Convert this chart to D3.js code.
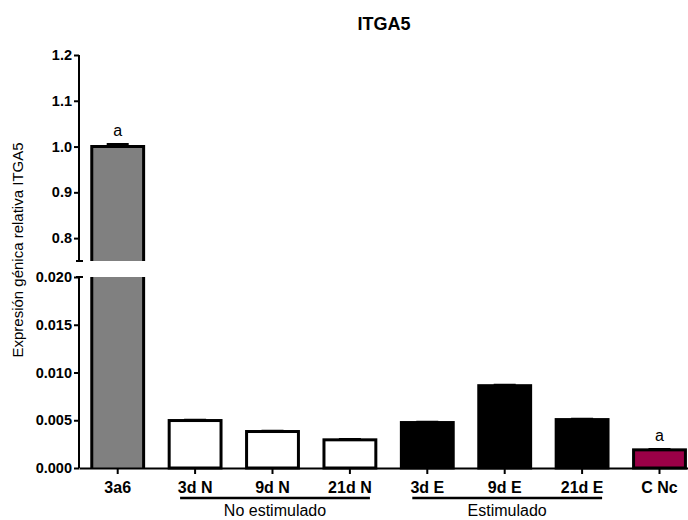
<!DOCTYPE html>
<html>
<head>
<meta charset="utf-8">
<script src="https://cdn.jsdelivr.net/npm/d3@7"></script>
<style>
  body { margin: 0; background: #fff; }
  svg { font-family: "Liberation Sans", Arial, sans-serif; }
</style>
</head>
<body>
<div id="chart"></div>
<script>
// datos
let categories = ["3a6", "3d N", "9d N", "21d N", "3d E", "9d E", "21d E", "C Nc"];
let values = [1.0, 0.00497, 0.00382, 0.00295, 0.00476, 0.00862, 0.00507, 0.0019];
let errors = [0.0045, 0.00004, 0.00004, 0.00003, 0.00003, 0.00004, 0.00003, 0.00004];
let fills = ["#808080", "#ffffff", "#ffffff", "#ffffff", "#000000", "#000000", "#000000", "#9b0047"];
let sigLabels = ["a", "", "", "", "", "", "", "a"];
let topTicks = [0.8, 0.9, 1.0, 1.1, 1.2];
let bottomTicks = [0, 0.005, 0.010, 0.015, 0.020];
let groups = [
  {name: "No estimulado", from: "3d N", to: "21d N"},
  {name: "Estimulado", from: "3d E", to: "21d E"}
];

let width = 688;
let height = 520;
let axisX = 79;

let svg = d3.select("#chart")
  .append("svg")
  .attr("width", width)
  .attr("height", height);

// escalas
let xScale = d3.scaleBand()
  .domain(categories)
  .range([axisX, axisX + 77.4 * categories.length])
  .paddingInner(0.33)
  .paddingOuter(0.165);

let yTop = d3.scaleLinear().domain([0.75, 1.2]).range([261, 55]);
let yBot = d3.scaleLinear().domain([0, 0.02]).range([468, 277]);

// titulo
svg.append("text")
  .attr("x", 384)
  .attr("y", 30)
  .attr("text-anchor", "middle")
  .attr("font-size", "18px")
  .attr("font-weight", "bold")
  .text("ITGA5");

// etiqueta eje y
svg.append("text")
  .attr("transform", "translate(23,250) rotate(-90)")
  .attr("text-anchor", "middle")
  .attr("font-size", "15px")
  .text("Expresión génica relativa ITGA5");

// barras
let bars = svg.append("g");
categories.forEach(function(c, i) {
  let x0 = xScale(c);
  let w = xScale.bandwidth();
  let v = values[i];
  if (v > 0.02) {
    // barra partida
    bars.append("rect")
      .attr("x", x0).attr("y", yBot(0.02))
      .attr("width", w).attr("height", yBot(0) - yBot(0.02))
      .attr("fill", fills[i]);
    bars.append("path")
      .attr("d", "M" + x0 + "," + yBot(0) + "V" + yBot(0.02) + "M" + (x0 + w) + "," + yBot(0.02) + "V" + yBot(0))
      .attr("stroke", "#000").attr("stroke-width", 3).attr("fill", "none");
    bars.append("rect")
      .attr("x", x0).attr("y", yTop(v))
      .attr("width", w).attr("height", yTop(0.75) - yTop(v))
      .attr("fill", fills[i]);
    bars.append("path")
      .attr("d", "M" + x0 + "," + yTop(0.75) + "V" + yTop(v) + "H" + (x0 + w) + "V" + yTop(0.75))
      .attr("stroke", "#000").attr("stroke-width", 3).attr("fill", "none");
  } else {
    bars.append("rect")
      .attr("x", x0).attr("y", yBot(v))
      .attr("width", w).attr("height", yBot(0) - yBot(v))
      .attr("fill", fills[i])
      .attr("stroke", "#000").attr("stroke-width", 3);
  }
});

// barras de error
categories.forEach(function(c, i) {
  let cx = xScale(c) + xScale.bandwidth() / 2;
  let y = values[i] > 0.02 ? yTop : yBot;
  let hw = 11;
  bars.append("path")
    .attr("d", "M" + cx + "," + y(values[i]) + "V" + y(values[i] + errors[i]) +
      "M" + (cx - hw) + "," + y(values[i] + errors[i]) + "H" + (cx + hw))
    .attr("stroke", "#000").attr("stroke-width", 3).attr("fill", "none");
  if (sigLabels[i]) {
    svg.append("text")
      .attr("x", cx)
      .attr("y", y(values[i] + errors[i]) - 8)
      .attr("text-anchor", "middle")
      .attr("font-size", "16px")
      .text(sigLabels[i]);
  }
});

// ejes y
let axisTop = d3.axisLeft(yTop).tickValues(topTicks).tickSize(5).tickPadding(2)
  .tickFormat(d3.format(".1f"));
let axisBot = d3.axisLeft(yBot).tickValues(bottomTicks).tickSize(5).tickPadding(2)
  .tickFormat(d3.format(".3f"));

[axisTop, axisBot].forEach(function(ax) {
  let g = svg.append("g")
    .attr("transform", "translate(" + axisX + ",0)")
    .call(ax);
  g.select(".domain").remove();
  g.selectAll("line").attr("stroke-width", 2);
  g.selectAll("text")
    .attr("font-size", "14.5px")
    .attr("font-weight", "bold")
    .attr("font-family", "Liberation Sans, Arial, sans-serif")
    .attr("fill", "#000");
});

// lineas del eje y con marcas de corte
svg.append("path")
  .attr("d", "M" + axisX + "," + yTop(1.2) + "V" + yTop(0.75) +
    "M" + (axisX - 3) + "," + yTop(0.75) + "H" + (axisX + 4) +
    "M" + axisX + "," + yBot(0) + "V" + yBot(0.02) +
    "M" + (axisX - 3) + "," + yBot(0.02) + "H" + (axisX + 4))
  .attr("stroke", "#000").attr("stroke-width", 2).attr("fill", "none");

// eje x
let axisx = d3.axisBottom(xScale).tickSize(6).tickPadding(8).tickSizeOuter(0);
let gx = svg.append("g")
  .attr("transform", "translate(0," + yBot(0) + ")")
  .call(axisx);
gx.select(".domain").attr("stroke-width", 2);
gx.selectAll("line").attr("stroke-width", 2);
gx.selectAll("text")
  .attr("font-size", "16px")
  .attr("font-weight", "bold")
  .attr("font-family", "Liberation Sans, Arial, sans-serif")
  .attr("fill", "#000");

// grupos
groups.forEach(function(gr) {
  let x1 = xScale(gr.from) + xScale.bandwidth() / 2 - 15;
  let x2 = xScale(gr.to) + xScale.bandwidth() / 2 + 20;
  svg.append("line")
    .attr("x1", x1).attr("x2", x2)
    .attr("y1", 498).attr("y2", 498)
    .attr("stroke", "#000").attr("stroke-width", 2.5);
  svg.append("text")
    .attr("x", (x1 + x2) / 2)
    .attr("y", 516)
    .attr("text-anchor", "middle")
    .attr("font-size", "16px")
    .text(gr.name);
});
</script>
</body>
</html>
